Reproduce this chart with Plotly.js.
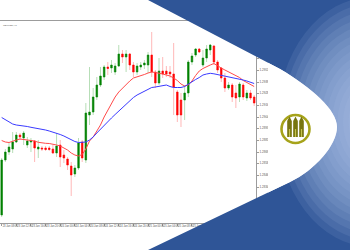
<!DOCTYPE html>
<html><head><meta charset="utf-8">
<script src="https://cdn.plot.ly/plotly-3.0.1.min.js"></script>
<style>html,body{margin:0;padding:0;background:#fff;}#chart{width:350px;height:250px;}</style>
</head><body><div id="chart"></div>
<script>
// ---- data (price per hourly candle) ----
const openP = [1.2806,1.2861,1.2869,1.2872,1.2879,1.2886,1.2883,1.2876,1.2879,1.2880,
1.2872,1.2873,1.2873,1.2873,1.2872,1.2868,1.2876,1.2866,1.2862,1.2855,
1.2847,1.2853,1.2879,1.2861,1.2906,1.2909,1.2924,1.2936,1.2944,1.2954,
1.2953,1.2949,1.2955,1.2967,1.2964,1.2967,1.2956,1.2949,1.2954,1.2956,
1.2956,1.2966,1.2949,1.2938,1.2950,1.2950,1.2949,1.2947,1.2929,1.2921,
1.2921,1.2928,1.2959,1.2966,1.2972,1.2956,1.2963,1.2971,1.2975,1.2959,
1.2953,1.2943,1.2933,1.2936,1.2928,1.2924,1.2936,1.2923,1.2928,1.2924];
const highP = [1.2863,1.2872,1.2878,1.2889,1.2889,1.2888,1.2890,1.2884,1.2883,1.2881,
1.2881,1.2875,1.2875,1.2875,1.2876,1.2888,1.2881,1.2871,1.2864,1.2859,
1.2856,1.2883,1.2881,1.2918,1.2954,1.2933,1.2944,1.2954,1.2956,1.2959,
1.2961,1.2958,1.2976,1.2971,1.2971,1.2968,1.2959,1.2958,1.2959,1.2961,
1.2969,1.2989,1.2951,1.2963,1.2964,1.2955,1.2955,1.2978,1.2931,1.2928,
1.2936,1.2961,1.2968,1.2973,1.2973,1.2971,1.2976,1.2977,1.2976,1.2961,
1.2954,1.2948,1.2939,1.2938,1.2936,1.2939,1.2938,1.2931,1.2931,1.2926];
const lowP = [1.2804,1.2859,1.2866,1.2868,1.2878,1.2881,1.2876,1.2873,1.2869,1.2859,
1.2863,1.2870,1.2870,1.2870,1.2867,1.2864,1.2854,1.2858,1.2851,1.2825,
1.2844,1.2851,1.2859,1.2858,1.2896,1.2906,1.2921,1.2934,1.2941,1.2946,
1.2948,1.2946,1.2954,1.2958,1.2949,1.2951,1.2944,1.2946,1.2951,1.2952,
1.2948,1.2944,1.2933,1.2936,1.2943,1.2944,1.2943,1.2906,1.2899,1.2894,
1.2901,1.2924,1.2956,1.2964,1.2968,1.2954,1.2959,1.2966,1.2956,1.2948,
1.2939,1.2929,1.2931,1.2919,1.2913,1.2919,1.2921,1.2920,1.2921,1.2915];
const closeP = [1.2861,1.2869,1.2874,1.2879,1.2886,1.2884,1.2888,1.2880,1.2880,1.2873,
1.2874,1.2872,1.28715,1.28715,1.2868,1.2875,1.2864,1.2863,1.2856,1.2846,
1.2853,1.2878,1.2863,1.2908,1.2909,1.2924,1.2936,1.2945,1.2954,1.29525,
1.2956,1.2955,1.2967,1.2964,1.2967,1.2956,1.2949,1.2955,1.2956,1.2958,
1.2966,1.2949,1.2938,1.2950,1.2947,1.2947,1.2947,1.2934,1.2906,1.2906,
1.2928,1.2959,1.2965,1.2972,1.2969,1.2963,1.2972,1.2976,1.2959,1.2951,
1.2943,1.2933,1.2936,1.2924,1.2923,1.2937,1.2924,1.2928,1.2923,1.2918];
const maFast = [1.28805,1.28790,1.28785,1.28800,1.28810,1.28820,1.28815,1.28810,1.28805,1.28800,
1.28787,1.28780,1.28777,1.28775,1.28770,1.28760,1.28750,1.28730,1.28710,1.28680,
1.28660,1.28650,1.28665,1.28720,1.28800,1.28840,1.28900,1.28960,1.29040,1.29110,
1.29180,1.29240,1.29290,1.29330,1.29370,1.29400,1.29430,1.29440,1.29450,1.29465,
1.29480,1.29490,1.29485,1.29480,1.29470,1.29460,1.29450,1.29430,1.29405,1.29370,
1.29350,1.29360,1.29400,1.29455,1.29500,1.29525,1.29545,1.29560,1.29575,1.29550,
1.29530,1.29510,1.29490,1.29475,1.29455,1.29435,1.29405,1.29385,1.29365,1.29345];
const maSlow = [1.29035,1.29015,1.28990,1.28970,1.28960,1.28957,1.28950,1.28945,1.28937,1.28932,
1.28925,1.28917,1.28910,1.28900,1.28890,1.28880,1.28865,1.28850,1.28830,1.28810,
1.28795,1.28785,1.28785,1.28790,1.28810,1.28840,1.28880,1.28920,1.28960,1.28995,
1.29030,1.29065,1.29100,1.29140,1.29175,1.29205,1.29235,1.29260,1.29280,1.29300,
1.29320,1.29335,1.29340,1.29345,1.29350,1.29360,1.29345,1.29335,1.29335,1.29335,
1.29345,1.29370,1.29395,1.29415,1.29435,1.29460,1.29470,1.29477,1.29472,1.29465,
1.29458,1.29450,1.29440,1.29430,1.29423,1.29417,1.29410,1.29400,1.29390,1.29375];
const priceTicks = [1.2998,1.2986,1.2975,1.2963,1.2951,1.2939,1.2928,1.2916,1.2904,1.2893,1.2881,1.2869,1.2858,1.2846,1.2834,1.2823,1.2811];
const priceTickLabels = ['1.2998','1.2986','1.2975','1.2963','1.2951','1.2939','1.2928','1.2916','1.2904','1.2893','1.2881','1.2869','1.2858','1.2846','1.2834','1.2823','1.2811'];
const timeLabels = ['23 Jan 08:00','23 Jan 12:00','23 Jan 16:00','23 Jan 20:00','24 Jan 00:00','24 Jan 04:00',
'24 Jan 08:00','24 Jan 12:00','24 Jan 16:00','24 Jan 20:00','25 Jan 00:00','25 Jan 04:00',
'25 Jan 08:00','25 Jan 12:00','25 Jan 16:00','25 Jan 20:00','26 Jan 00:00','26 Jan 04:00'];

const idx = openP.map((_, i) => i);
const bodyHigh = openP.map((o, i) => Math.max(o, closeP[i]));
const bodyLow = openP.map((o, i) => Math.min(o, closeP[i]));
const timeTickVals = timeLabels.map((_, k) => k * 4);

const traces = [
  {type:'candlestick', x:idx, open:openP, high:highP, low:lowP, close:closeP,
   increasing:{line:{color:'#b7deb7', width:1}, fillcolor:'#b7deb7'},
   decreasing:{line:{color:'#ffb8b8', width:1}, fillcolor:'#ffb8b8'},
   whiskerwidth:0, hoverinfo:'skip', showlegend:false},
  {type:'candlestick', x:idx, open:openP, high:bodyHigh, low:bodyLow, close:closeP,
   increasing:{line:{color:'#008000', width:0.5}, fillcolor:'#008000'},
   decreasing:{line:{color:'#ff0000', width:0.5}, fillcolor:'#ff0000'},
   whiskerwidth:0, hoverinfo:'skip', showlegend:false},
  {type:'scatter', mode:'lines', x:idx, y:maFast, line:{color:'#ff4a4a', width:1}, hoverinfo:'skip', showlegend:false},
  {type:'scatter', mode:'lines', x:idx, y:maSlow, line:{color:'#3a3aff', width:1}, hoverinfo:'skip', showlegend:false}
];

// decoration: page pixel -> paper coords (margins are 0)
const W = 350, H = 250;
const P = (x, y) => (x / W).toFixed(4) + ',' + (1 - y / H).toFixed(4);
const base = {xref:'paper', yref:'paper', layer:'above'};
const curve = ' L' + P(280,69) + ' C' + P(312,88) + ' ' + P(337,110) + ' ' + P(337,127) +
              ' C' + P(337,145) + ' ' + P(315,170) + ' ' + P(290,182);
const shapes = [];
shapes.push(Object.assign({}, base, {type:'path', line:{width:0}, fillcolor:'#2f5597',
  path:'M' + P(148,0) + curve + ' L' + P(148,250) + ' L' + P(352,252) + ' L' + P(352,-2) + ' Z'}));
// soft glow: many faint concentric ellipses
for (let k = 0; k < 14; k++) {
  const rx = 95 - k * 5.5, ry = 125 - k * 7;
  shapes.push(Object.assign({}, base, {type:'circle', line:{width:0}, fillcolor:'#b9cbee', opacity:0.11,
    x0:(372-rx)/W, x1:(372+rx)/W, y0:1-(122+ry)/H, y1:1-(122-ry)/H}));
}
shapes.push(Object.assign({}, base, {type:'path', line:{width:0}, fillcolor:'#ffffff',
  path:'M' + P(268,62.7) + curve + ' L' + P(268,192.5) + ' Z'}));
// logo
shapes.push(Object.assign({}, base, {type:'circle', line:{color:'#a6a31a', width:2.6}, fillcolor:'#ffffff',
  x0:(295.5-14)/W, x1:(295.5+14)/W, y0:1-(129+14)/H, y1:1-(129-14)/H}));
[289.5, 295.5, 301.5].forEach(cx => {
  shapes.push(Object.assign({}, base, {type:'path', line:{width:0}, fillcolor:'#77750f',
    path:'M' + P(cx-2.3,137) + ' L' + P(cx-2.3,121) + ' L' + P(cx,116.5) + ' L' + P(cx+2.3,121) + ' L' + P(cx+2.3,137) + ' Z'}));
  shapes.push(Object.assign({}, base, {type:'rect', line:{width:0}, fillcolor:'#c4c24e',
    x0:(cx-0.6)/W, x1:(cx+0.6)/W, y0:1-137/H, y1:1-129/H}));
});

const layout = {
  width:W, height:H, margin:{l:0, r:0, t:0, b:0}, paper_bgcolor:'#ffffff', plot_bgcolor:'#ffffff',
  font:{family:'Liberation Sans, Arial, sans-serif', color:'#555'},
  showlegend:false, hovermode:false,
  xaxis:{domain:[0, 256/350], range:[-0.46, 69.5], rangeslider:{visible:false},
    showgrid:false, zeroline:false, showline:true, mirror:true, linecolor:'#9c9c9c', linewidth:1,
    ticks:'outside', ticklen:2, tickcolor:'#9c9c9c', tickvals:timeTickVals, ticktext:timeLabels,
    tickangle:0, ticklabelposition:'outside right', tickfont:{size:2.6, color:'#555'}, fixedrange:true},
  yaxis:{domain:[27/250, 229/250], range:[1.2798, 1.3000], side:'right',
    showgrid:false, zeroline:false, showline:true, linecolor:'#9c9c9c', linewidth:1,
    ticks:'outside', ticklen:2, tickcolor:'#9c9c9c', tickvals:priceTicks, ticktext:priceTickLabels,
    tickfont:{size:3, color:'#555'}, fixedrange:true},
  boxgap:0.42,
  shapes:shapes,
  annotations:[{xref:'paper', yref:'paper', x:1/W, y:1-22.5/H, xanchor:'left', yanchor:'top',
    text:'GBPUSD,H1', showarrow:false, font:{size:2.4, color:'#666'}}]
};
Plotly.newPlot('chart', traces, layout, {staticPlot:true, displayModeBar:false});
</script></body></html>
